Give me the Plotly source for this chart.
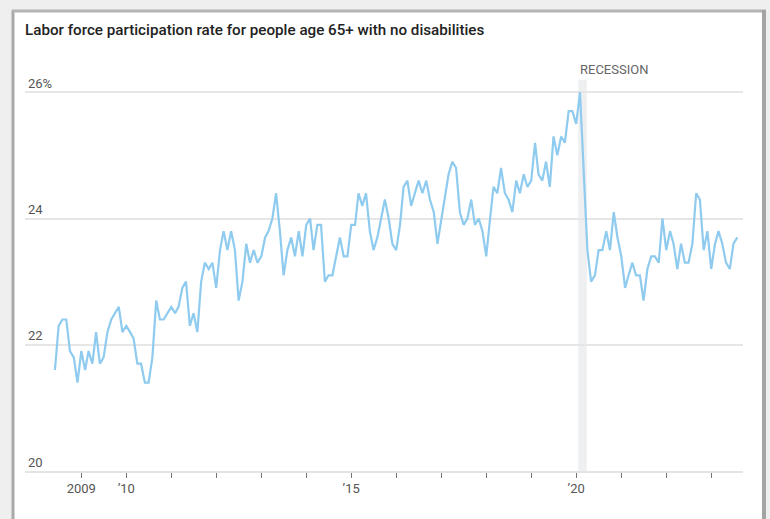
import pandas as pd
import plotly.graph_objects as go

# ---------------- data ----------------
start_month = "2008-06-01"
rate = [
    21.6, 22.3, 22.4, 22.4, 21.9, 21.8, 21.4,                                 # 2008 Jun-Dec
    21.9, 21.6, 21.9, 21.7, 22.2, 21.7, 21.8, 22.2, 22.4, 22.5, 22.6, 22.2,   # 2009
    22.3, 22.2, 22.1, 21.7, 21.7, 21.4, 21.4, 21.8, 22.7, 22.4, 22.4, 22.5,   # 2010
    22.6, 22.5, 22.6, 22.9, 23.0, 22.3, 22.5, 22.2, 23.0, 23.3, 23.2, 23.3,   # 2011
    22.9, 23.5, 23.8, 23.5, 23.8, 23.5, 22.7, 23.0, 23.6, 23.3, 23.5, 23.3,   # 2012
    23.4, 23.7, 23.8, 24.0, 24.4, 23.8, 23.1, 23.5, 23.7, 23.4, 23.8, 23.4,   # 2013
    23.9, 24.0, 23.5, 23.9, 23.9, 23.0, 23.1, 23.1, 23.4, 23.7, 23.4, 23.4,   # 2014
    23.9, 23.9, 24.4, 24.2, 24.4, 23.8, 23.5, 23.7, 24.0, 24.3, 24.0, 23.6,   # 2015
    23.5, 23.9, 24.5, 24.6, 24.2, 24.4, 24.6, 24.4, 24.6, 24.3, 24.1, 23.6,   # 2016
    24.0, 24.4, 24.7, 24.9, 24.8, 24.1, 23.9, 24.0, 24.3, 23.9, 24.0, 23.8,   # 2017
    23.4, 24.0, 24.5, 24.4, 24.8, 24.4, 24.3, 24.1, 24.6, 24.4, 24.7, 24.5,   # 2018
    24.6, 25.2, 24.7, 24.6, 24.9, 24.5, 25.3, 25.0, 25.3, 25.2, 25.7, 25.7,   # 2019
    25.5, 26.0, 24.7, 23.5, 23.0, 23.1, 23.5, 23.5, 23.8, 23.5, 24.1, 23.7,   # 2020
    23.4, 22.9, 23.1, 23.3, 23.1, 23.1, 22.7, 23.2, 23.4, 23.4, 23.3, 24.0,   # 2021
    23.5, 23.8, 23.6, 23.2, 23.6, 23.3, 23.3, 23.6, 24.4, 24.3, 23.5, 23.8,   # 2022
    23.2, 23.6, 23.8, 23.6, 23.3, 23.2, 23.6, 23.7,                           # 2023 Jan-Aug
]
months = pd.date_range(start_month, periods=len(rate), freq="MS")

year_ticks = [f"{y}-01-01" for y in range(2009, 2024)]
year_labels = ["2009", "’10", "", "", "", "", "’15", "", "", "", "", "’20", "", "", ""]

y_ticks = [20, 22, 24, 26]
y_labels = ["20", "22", "24", "26%"]

recession = ("2020-01-18", "2020-03-27")
recession_top = 26.2

title_text = "Labor force participation rate for people age 65+ with no disabilities"

# ---------------- layout geometry ----------------
W, H = 770, 519
ML, MR, MT, MB = 25, 27, 67, 48
PW, PH = W - ML - MR, H - MT - MB


def px_x(px):
    return (px - ML) / PW


def px_y(py):
    return (H - MB - py) / PH


NARROW = "Liberation Sans Narrow, Arial Narrow, Roboto, sans-serif"

fig = go.Figure()
fig.add_trace(go.Scatter(
    x=months, y=rate, mode="lines",
    line=dict(color="#8ecbef", width=2.2),
    hoverinfo="x+y", showlegend=False,
))

shapes = [
    # window frame (screenshot border)
    dict(type="rect", xref="paper", yref="paper", layer="below",
         x0=px_x(14), x1=px_x(762), y0=px_y(H + 5), y1=px_y(12),
         fillcolor="white", line=dict(width=0)),
    dict(type="line", xref="paper", yref="paper", layer="below",
         x0=px_x(13), x1=px_x(13), y0=px_y(H + 5), y1=px_y(10),
         line=dict(color="#a9a9a9", width=3)),
    dict(type="line", xref="paper", yref="paper", layer="below",
         x0=px_x(12), x1=px_x(766), y0=px_y(11), y1=px_y(11),
         line=dict(color="#b4b4b4", width=3)),
    dict(type="line", xref="paper", yref="paper", layer="below",
         x0=px_x(764), x1=px_x(764), y0=px_y(H + 5), y1=px_y(10),
         line=dict(color="#a4a4a4", width=4)),
    # recession band
    dict(type="rect", xref="x", yref="y", layer="below",
         x0=recession[0], x1=recession[1], y0=20, y1=recession_top,
         fillcolor="#eeeff1", line=dict(width=0)),
]

fig.update_layout(
    width=W, height=H,
    margin=dict(l=ML, r=MR, t=MT, b=MB),
    paper_bgcolor="#efefef",
    plot_bgcolor="rgba(0,0,0,0)",
    shapes=shapes,
    title=dict(text=title_text, x=0, xanchor="left", xref="paper",
               y=1 - 30 / H, yanchor="middle", yref="container",
               font=dict(family="Roboto, Liberation Sans, sans-serif", size=15.2,
                         color="#222222", weight=500)),
    annotations=[
        dict(text="RECESSION", x=recession[0], xref="x", xanchor="left",
             y=px_y(69), yref="paper", yanchor="middle", showarrow=False,
             font=dict(family=NARROW, size=13, color="#666666")),
    ],
    xaxis=dict(
        type="date",
        range=["2007-10-02", "2023-09-16"],
        tickmode="array", tickvals=year_ticks, ticktext=year_labels,
        ticks="outside", ticklen=5, tickwidth=1, tickcolor="#777777",
        showline=True, linecolor="#e4e4e4", linewidth=1.5,
        showgrid=False, zeroline=False,
        tickfont=dict(family=NARROW, size=13, color="#555555"),
    ),
    yaxis=dict(
        range=[20, 26.4],
        tickmode="array", tickvals=y_ticks, ticktext=y_labels,
        ticks="", showline=False, zeroline=False,
        showgrid=True, gridcolor="#e6e6e6", gridwidth=1.5,
        ticklabelposition="inside", ticklabelstandoff=0, ticklabelshift=-9,
        tickfont=dict(family=NARROW, size=13, color="#555555"),
    ),
)

fig.write_html("out.html")
